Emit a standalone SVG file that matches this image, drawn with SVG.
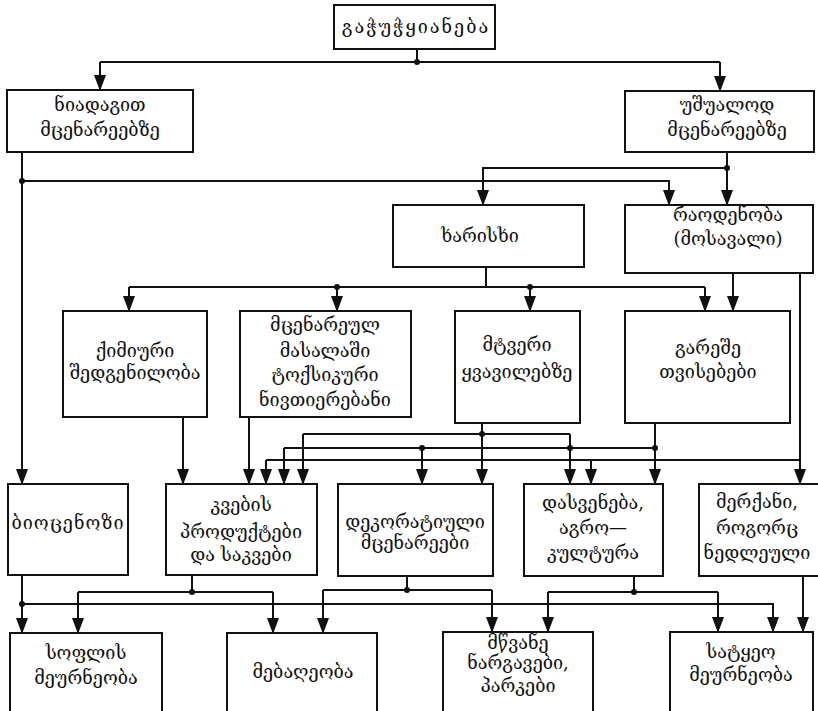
<svg xmlns="http://www.w3.org/2000/svg" width="818" height="711" viewBox="0 0 818 711">
  <style>
    .box { fill: #fff; stroke: #111; stroke-width: 2; }
    .lbl { font-family: "DejaVu Serif", "Liberation Serif", serif; font-size: 18px; fill: #111; text-anchor: middle; }
    .wide { letter-spacing: 2px; }
    .wire { fill: none; stroke: #111; stroke-width: 2; stroke-linejoin: round; }
    .arr { fill: none; stroke: #111; stroke-width: 2; marker-end: url(#head); }
    .dot { fill: #111; }
  </style>
  <defs>
    <!-- filled arrowhead pointing along the path -->
    <marker id="head" markerUnits="userSpaceOnUse" markerWidth="16" markerHeight="12" refX="15" refY="6" orient="auto" viewBox="0 0 16 12">
      <path d="M0,0 L16,6 L0,12 Z" fill="#111"/>
    </marker>
  </defs>
  <rect width="818" height="711" fill="#fff"/>

  <!-- connectors -->
  <g id="connectors">
    <!-- pollution splits into two pathways -->
    <path class="wire" d="M417,49 V62 M100,62 H720"/>
    <path class="arr" d="M100,62 V90"/>
    <path class="arr" d="M720,62 V91"/>
    <circle class="dot" cx="417" cy="62" r="3"/>

    <!-- via soil -->
    <path class="arr" d="M22,152 V484"/>
    <path class="arr" d="M22,181 H669 V205"/>
    <circle class="dot" cx="22" cy="181" r="3"/>

    <!-- directly on plants -->
    <path class="arr" d="M727,152 V205"/>
    <path class="arr" d="M727,168 H483 V205"/>
    <circle class="dot" cx="727" cy="168" r="3"/>

    <!-- quality -->
    <path class="wire" d="M486,267 V287 M129,287 H705"/>
    <path class="arr" d="M129,287 V311"/>
    <path class="arr" d="M337,287 V311"/>
    <path class="arr" d="M530,287 V311"/>
    <path class="arr" d="M705,287 V311"/>
    <circle class="dot" cx="337" cy="287" r="3"/>
    <circle class="dot" cx="530" cy="287" r="3"/>

    <!-- quantity -->
    <path class="arr" d="M733,273 V311"/>
    <path class="arr" d="M800,273 V484"/>

    <!-- third row to fourth row -->
    <path class="arr" d="M183,417 V484"/>
    <path class="arr" d="M249,417 V484"/>

    <path class="arr" d="M482,423 V484"/>
    <path class="wire" d="M303,434 H570"/>
    <path class="arr" d="M303,434 V484"/>
    <path class="arr" d="M570,434 V484"/>
    <circle class="dot" cx="482" cy="434" r="3"/>

    <path class="arr" d="M655,423 V484"/>
    <path class="wire" d="M284,448 H655"/>
    <path class="arr" d="M284,448 V484"/>
    <path class="arr" d="M422,448 V484"/>
    <circle class="dot" cx="655" cy="448" r="3"/>
    <circle class="dot" cx="422" cy="448" r="3"/>
    <circle class="dot" cx="570" cy="448" r="3"/>

    <path class="wire" d="M266,460 H800"/>
    <path class="arr" d="M266,460 V484"/>
    <path class="arr" d="M591,460 V484"/>

    <!-- fourth row to bottom row -->
    <path class="arr" d="M22,575 V633"/>
    <path class="arr" d="M22,604 H773 V632"/>
    <circle class="dot" cx="22" cy="604" r="3"/>

    <path class="wire" d="M192,575 V592 M78,592 H273"/>
    <path class="arr" d="M78,592 V633"/>
    <path class="arr" d="M273,592 V633"/>
    <circle class="dot" cx="192" cy="592" r="3"/>

    <path class="wire" d="M407,576 V590 M323,590 H492"/>
    <path class="arr" d="M323,590 V633"/>
    <path class="arr" d="M492,590 V632"/>
    <circle class="dot" cx="407" cy="590" r="3"/>

    <path class="wire" d="M634,576 V592 M548,592 H718"/>
    <path class="arr" d="M548,592 V632"/>
    <path class="arr" d="M718,592 V632"/>
    <circle class="dot" cx="634" cy="592" r="3"/>

    <path class="arr" d="M803,576 V632"/>
  </g>

  <!-- nodes -->
  <g id="n-pollution">
    <rect class="box" x="334" y="5" width="161" height="44"/>
    <text class="lbl wide" x="416" y="33">გაჭუჭყიანება</text>
  </g>
  <g id="n-soil">
    <rect class="box" x="7" y="90" width="186" height="62"/>
    <text class="lbl" x="100" y="111">ნიადაგით</text>
    <text class="lbl" x="100" y="136">მცენარეებზე</text>
  </g>
  <g id="n-direct">
    <rect class="box" x="625" y="91" width="189" height="61"/>
    <text class="lbl" x="727" y="111">უშუალოდ</text>
    <text class="lbl" x="727" y="136">მცენარეებზე</text>
  </g>
  <g id="n-quality">
    <rect class="box" x="393" y="205" width="191" height="62"/>
    <text class="lbl" x="480" y="242">ხარისხი</text>
  </g>
  <g id="n-quantity">
    <rect class="box" x="625" y="205" width="188" height="68"/>
    <text class="lbl" x="728" y="221">რაოდენობა</text>
    <text class="lbl" x="728" y="245">(მოსავალი)</text>
  </g>
  <g id="n-chemistry">
    <rect class="box" x="63" y="311" width="144" height="106"/>
    <text class="lbl" x="135" y="357">ქიმიური</text>
    <text class="lbl" x="135" y="379">შედგენილობა</text>
  </g>
  <g id="n-toxic">
    <rect class="box" x="240" y="311" width="171" height="106"/>
    <text class="lbl" x="325" y="331">მცენარეულ</text>
    <text class="lbl" x="325" y="357">მასალაში</text>
    <text class="lbl" x="325" y="381">ტოქსიკური</text>
    <text class="lbl" x="325" y="406">ნივთიერებანი</text>
  </g>
  <g id="n-dust">
    <rect class="box" x="455" y="311" width="125" height="112"/>
    <text class="lbl" x="517" y="351">მტვერი</text>
    <text class="lbl" x="517" y="378">ყვავილებზე</text>
  </g>
  <g id="n-appearance">
    <rect class="box" x="625" y="311" width="165" height="112"/>
    <text class="lbl" x="708" y="354">გარეშე</text>
    <text class="lbl" x="708" y="378">თვისებები</text>
  </g>
  <g id="n-biocenosis">
    <rect class="box" x="8" y="484" width="120" height="91"/>
    <text class="lbl" x="68" y="529" letter-spacing="1">ბიოცენოზი</text>
  </g>
  <g id="n-food">
    <rect class="box" x="166" y="484" width="151" height="91"/>
    <text class="lbl" x="241" y="511">კვების</text>
    <text class="lbl" x="241" y="538">პროდუქტები</text>
    <text class="lbl" x="241" y="561">და  საკვები</text>
  </g>
  <g id="n-decorative">
    <rect class="box" x="338" y="484" width="155" height="92"/>
    <text class="lbl" x="415" y="528">დეკორატიული</text>
    <text class="lbl" x="415" y="549">მცენარეები</text>
  </g>
  <g id="n-recreation">
    <rect class="box" x="524" y="484" width="139" height="92"/>
    <text class="lbl" x="593" y="509">დასვენება,</text>
    <text class="lbl" x="593" y="534">აგრო—</text>
    <text class="lbl" x="593" y="559">კულტურა</text>
  </g>
  <g id="n-timber">
    <rect class="box" x="699" y="484" width="131" height="92"/>
    <text class="lbl" x="757" y="508">მერქანი,</text>
    <text class="lbl" x="757" y="534">როგორც</text>
    <text class="lbl" x="757" y="559">ნედლეული</text>
  </g>
  <g id="n-agriculture">
    <rect class="box" x="10" y="633" width="152" height="90"/>
    <text class="lbl" x="86" y="659">სოფლის</text>
    <text class="lbl" x="86" y="684">მეურნეობა</text>
  </g>
  <g id="n-gardening">
    <rect class="box" x="227" y="633" width="150" height="90"/>
    <text class="lbl" x="303" y="678">მებაღეობა</text>
  </g>
  <g id="n-parks">
    <rect class="box" x="443" y="632" width="150" height="90"/>
    <text class="lbl" x="518" y="649">მწვანე</text>
    <text class="lbl" x="518" y="669">ნარგავები,</text>
    <text class="lbl" x="518" y="692">პარკები</text>
  </g>
  <g id="n-forestry">
    <rect class="box" x="670" y="632" width="143" height="90"/>
    <text class="lbl" x="741" y="658">სატყეო</text>
    <text class="lbl" x="741" y="681">მეურნეობა</text>
  </g>
</svg>
